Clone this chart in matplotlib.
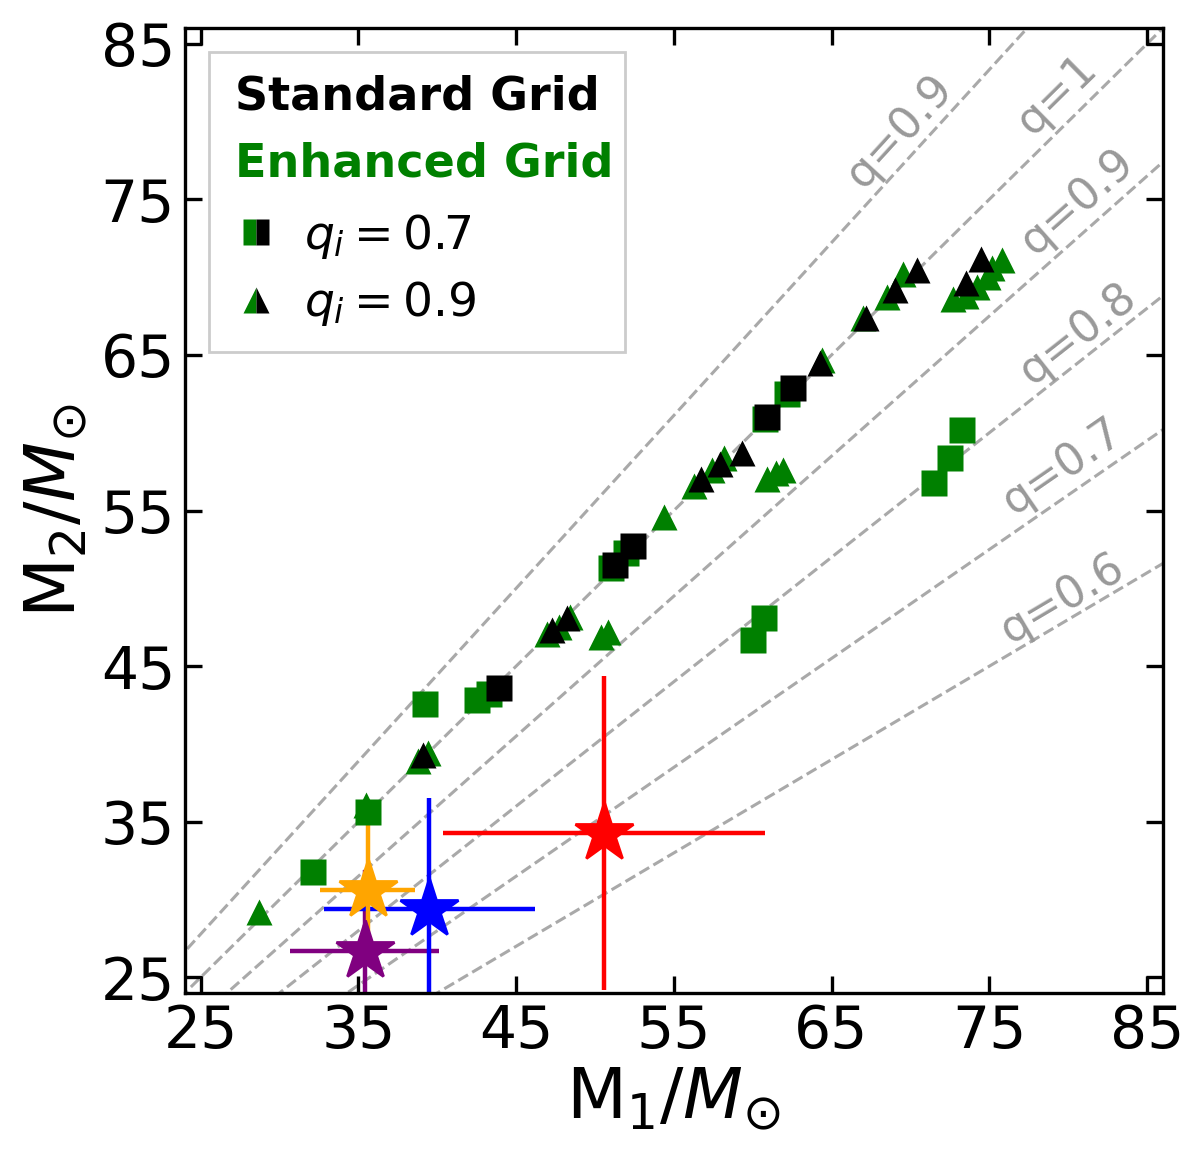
import numpy as np
import matplotlib
matplotlib.use('Agg')
import matplotlib.pyplot as plt
from matplotlib.lines import Line2D
from matplotlib.patches import Rectangle

# Standard grid (black)
std_sq_m1 = [43.9, 51.3, 52.4, 60.9, 62.55]
std_sq_m2 = [43.6, 51.5, 52.7, 61.0, 62.86]
std_tri_m1 = [39.1, 47.3, 48.2, 56.7, 57.9, 59.3, 64.3, 67.2, 69.0, 70.4, 73.5, 74.5]
std_tri_m2 = [39.3, 47.3, 48.1, 57.0, 58.0, 58.7, 64.5, 67.4, 69.2, 70.45, 69.6, 71.2]

# Enhanced grid (green)
enh_sq_m1 = [32.1, 35.6, 39.2, 42.5, 43.3, 51.0, 52.0, 60.0, 60.7, 60.8, 62.2, 71.5, 72.5, 73.3]
enh_sq_m2 = [31.8, 35.6, 42.6, 42.8, 43.2, 51.3, 52.3, 46.7, 48.1, 60.9, 62.5, 56.8, 58.4, 60.2]
enh_tri_m1 = [28.7, 35.5, 38.8, 39.4, 46.95, 47.7, 48.4, 50.4, 50.8, 54.4, 56.3, 57.4, 58.2,
              60.9, 61.5, 61.9, 64.4, 67.0, 68.5, 69.5, 72.7, 73.5, 74.2, 74.9, 75.2, 75.8]
enh_tri_m2 = [29.2, 36.1, 38.9, 39.4, 47.1, 47.5, 48.15, 46.9, 47.2, 54.6, 56.6, 57.6, 58.4,
              57.0, 57.4, 57.6, 64.7, 67.35, 68.7, 70.2, 68.6, 68.8, 69.4, 70.0, 70.6, 71.1]

# observed events (m1, m1 err, m2, m2 err)
ev_m1 = [35.4, 39.5, 35.6, 50.6]
ev_m1err = [4.7, 6.7, 3.0, 10.2]
ev_m2 = [26.7, 29.4, 30.6, 34.3]
ev_m2err = [5.2, 7.1, 4.4, 10.1]
ev_col = ['purple', 'blue', 'orange', 'red']

# mass ratio lines
q_vals = [1/0.9, 1.0, 0.9, 0.8, 0.7, 0.6]
q_text = ['q=0.9', 'q=1', 'q=0.9', 'q=0.8', 'q=0.7', 'q=0.6']
q_lab_x = [69.3, 79.3, 80.6, 80.6, 79.6, 79.6]
q_lab_off = [2.4, 2.4, 2.3, 1.9, 2.1, 1.6]

plt.rcParams['font.size'] = 21

fig = plt.figure(figsize=(6, 5.805), dpi=200)
ax = fig.add_axes([0.154, 0.1447, 0.815, 0.831])

xx = np.linspace(20, 90, 10)
for q in q_vals:
    ax.plot(xx, q*xx, '--', color='darkgray', lw=1.1, zorder=1)

for i in range(len(ev_m1)):
    ax.errorbar(ev_m1[i], ev_m2[i], xerr=ev_m1err[i], yerr=ev_m2err[i], fmt='*',
                color=ev_col[i], ms=22, elinewidth=1.6, zorder=2)

ax.plot(enh_tri_m1, enh_tri_m2, '^', color='green', ms=9.5, mec='none', zorder=3)
ax.plot(enh_sq_m1, enh_sq_m2, 's', color='green', ms=9.5, mec='none', zorder=4)
ax.plot(std_tri_m1, std_tri_m2, '^', color='black', ms=9.5, mec='none', zorder=5)
ax.plot(std_sq_m1, std_sq_m2, 's', color='black', ms=9.5, mec='none', zorder=6)

ax.set_xlim(24, 86)
ax.set_ylim(24, 86)
ax.set_xticks(np.arange(25, 86, 10))
ax.set_yticks(np.arange(25, 86, 10))
ax.tick_params(direction='in', top=True, right=True, length=6, width=1.2)
for s in ax.spines.values():
    s.set_linewidth(1.2)
ax.set_xlabel(r'M$_1$/$M_{\odot}$', fontsize=25, labelpad=2)
ax.set_ylabel(r'M$_2$/$M_{\odot}$', fontsize=25, labelpad=4)

# labels for q lines, rotated along the line
for q, t, lx, off in zip(q_vals, q_text, q_lab_x, q_lab_off):
    p1 = ax.transData.transform((20, 20*q))
    p2 = ax.transData.transform((90, 90*q))
    ang = np.degrees(np.arctan2(p2[1]-p1[1], p2[0]-p1[0]))
    ax.text(lx, q*lx + off, t, rotation=ang, rotation_mode='anchor',
            ha='center', va='center', color='#999999', fontsize=16, zorder=1)

# legend box
ax.add_patch(Rectangle((0.0245, 0.664), 0.4255, 0.311, transform=ax.transAxes,
                       facecolor='white', edgecolor='0.8', lw=1.0, zorder=7))
ax.text(0.051, 0.929, 'Standard Grid', transform=ax.transAxes, fontsize=16.6,
        fontweight='bold', color='black', va='center', zorder=8)
ax.text(0.051, 0.859, 'Enhanced Grid', transform=ax.transAxes, fontsize=16.6,
        fontweight='bold', color='green', va='center', zorder=8)
h_sq = Line2D([], [], ls='none', marker='s', ms=9.5, fillstyle='left',
              mfc='green', mfcalt='black', mec='none')
h_tri = Line2D([], [], ls='none', marker='^', ms=9.5, fillstyle='left',
               mfc='green', mfcalt='black', mec='none')
leg = ax.legend([h_sq, h_tri], [r'$q_i = 0.7$', r'$q_i = 0.9$'], loc='upper left',
                bbox_to_anchor=(0.049, 0.810), frameon=False, fontsize=17,
                handlelength=1.0, handletextpad=0.5, borderpad=0, borderaxespad=0,
                labelspacing=0.4)
leg.set_zorder(9)

fig.savefig('out.png', dpi=200)
